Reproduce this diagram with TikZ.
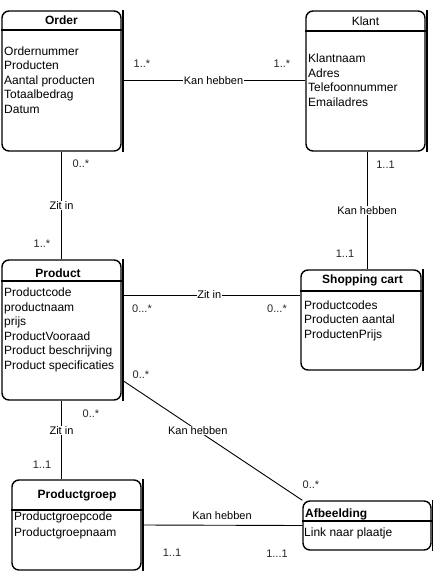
\documentclass[tikz,border=0pt]{standalone}
\usepackage{fontspec}
\setmainfont{Liberation Sans}
\usetikzlibrary{calc}
\begin{document}
\begin{tikzpicture}[x=1pt,y=-1pt,
  entity/.style={draw, line width=1.4pt, rounded corners=7pt, inner sep=0pt},
  sep/.style={line width=1.4pt},
  edgeline/.style={line width=1.4pt},
  title/.style={font=\fontsize{12}{14}\selectfont\bfseries, inner sep=0pt},
  attrs/.style={font=\fontsize{12}{14.5}\selectfont, align=left, anchor=west, inner sep=0pt},
  conn/.style={line width=0.9pt},
  lbl/.style={font=\fontsize{11}{13}\selectfont, inner sep=0.5pt},
  lblw/.style={lbl, fill=white},
  card/.style={font=\fontsize{11}{13}\selectfont, inner sep=0pt, text=black!85}
]
\useasboundingbox (0,0) rectangle (432,571);

% Entities
\node[entity, minimum width=119pt, minimum height=140pt] (order) at (61.5,81) {};
\node[entity, minimum width=119pt, minimum height=140pt] (klant) at (365.5,81) {};
\node[entity, minimum width=119pt, minimum height=140pt] (product) at (61.5,330) {};
\node[entity, minimum width=120pt, minimum height=100pt] (cart) at (361,320) {};
\node[entity, minimum width=129pt, minimum height=90pt] (pgroep) at (76.5,525) {};
\node[entity, minimum width=128pt, minimum height=49pt] (afb) at (367,525.5) {};

% right edge lines
\foreach \n in {order,klant,product,cart,pgroep,afb}
  \draw[edgeline] ($(\n.north east)+(1.2,0)$) -- ($(\n.south east)+(1.2,0)$);

% header separators
\draw[sep] (order.west |- 0,30) -- (order.east |- 0,30);
\draw[sep] (klant.west |- 0,31) -- (klant.east |- 0,31);
\draw[sep] (product.west |- 0,281) -- (product.east |- 0,281);
\draw[sep] (cart.west |- 0,291) -- (cart.east |- 0,291);
\draw[sep] (pgroep.west |- 0,510) -- (pgroep.east |- 0,510);
\draw[sep] (afb.west |- 0,521) -- (afb.east |- 0,521);

% titles
\node[title] (torder) at (61.5,20.5) {Order};
\node[title, font=\fontsize{12}{14}\selectfont] (tklant) at (365.5,21) {Klant};
\node[title] (tproduct) at (58,273) {Product};
\node[title] (tcart) at (362.5,280) {Shopping cart};
\node[title] (tpgroep) at (77,495) {Productgroep};
\node[title, anchor=west] (tafb) at (305,514) {Afbeelding};

% attributes
\node[attrs] (aorder) at (4,80) {Ordernummer\\Producten\\Aantal producten\\Totaalbedrag\\Datum};
\node[attrs] (aklant) at (308,80) {Klantnaam\\Adres\\Telefoonnummer\\Emailadres};
\node[attrs] (aproduct) at (4,330) {Productcode\\productnaam\\prijs\\ProductVooraad\\Product beschrijving\\Product specificaties};
\node[attrs] (acart) at (304,320.5) {Productcodes\\Producten aantal\\ProductenPrijs};
\node[attrs, font=\fontsize{12}{16}\selectfont] (apgroep) at (14,525) {Productgroepcode\\Productgroepnaam};
\node[attrs] (aafb) at (304,533) {Link naar plaatje};

% connector end points
\coordinate (oe) at (order.east |- 0,80.5);
\coordinate (kw) at (klant.west |- 0,80.5);
\coordinate (pe) at (product.east |- 0,295);
\coordinate (cw) at (cart.west |- 0,295);
\coordinate (ks) at (klant.south -| 367,0);
\coordinate (cn) at (cart.north -| 367,0);
\coordinate (pdiag) at (122,380);

% connectors
\draw[conn] (oe) -- node[lblw] (l1) {Kan hebben} (kw);
\draw[conn] (order.south) -- node[lblw, pos=0.5] (l2) {Zit in} (order.south |- product.north);
\draw[conn] (ks) -- node[lblw] (l3) {Kan hebben} (cn);
\draw[conn] (pe) -- node[lblw, pos=0.49] (l4) {Zit in} (cw);
\draw[conn] (product.south) -- node[lblw, pos=0.38] (l5) {Zit in} (product.south |- pgroep.north);
\draw[conn] (pdiag) -- node[lblw, pos=0.42] (l6) {Kan hebben} (afb.north west);
\draw[conn] (pgroep.east) -- (afb.west);
\node[lbl] (l7) at (222,516) {Kan hebben};

% cardinalities
\node[card] (c1) at (142,64) {1..*};
\node[card] (c2) at (282,64) {1..*};
\node[card] (c3) at (81,164) {0..*};
\node[card] (c4) at (42,244) {1..*};
\node[card] (c5) at (385.5,165) {1..1};
\node[card] (c6) at (345,254) {1..1};
\node[card] (c7) at (142,309) {0...*};
\node[card] (c8) at (277,309) {0...*};
\node[card] (c9) at (141,375) {0..*};
\node[card] (c10) at (91,414) {0..*};
\node[card] (c11) at (42,465) {1..1};
\node[card] (c12) at (311,485) {0..*};
\node[card] (c13) at (172,553) {1..1};
\node[card] (c14) at (277,554) {1...1};
\end{tikzpicture}
\end{document}
